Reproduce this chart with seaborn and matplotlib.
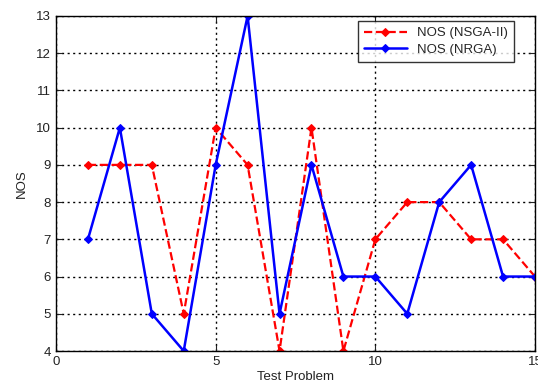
import matplotlib
matplotlib.use("Agg")
import matplotlib.pyplot as plt
import seaborn as sns
import pandas as pd

problems = list(range(1, 16))
nsga2 = [9, 9, 9, 5, 10, 9, 4, 10, 4, 7, 8, 8, 7, 7, 6]
nrga = [7, 10, 5, 4, 9, 13, 5, 9, 6, 6, 5, 8, 9, 6, 6]
labels = ["NOS (NSGA-II)", "NOS (NRGA)"]

sns.set_style("white")
plt.rcParams['font.family'] = ['Liberation Sans', 'DejaVu Sans']

fig = plt.figure(figsize=(5.38, 3.85), dpi=100)
ax = fig.add_axes([56/538, 1 - 351/385, (535-56)/538, (351-16)/385])

df1 = pd.DataFrame({"x": problems, "y": nsga2})
df2 = pd.DataFrame({"x": problems, "y": nrga})
sns.lineplot(data=df1, x="x", y="y", ax=ax, color="#ff0000", linestyle="--",
             linewidth=1.6, marker="D", markersize=4, markeredgecolor="#ff0000",
             label=labels[0])
sns.lineplot(data=df2, x="x", y="y", ax=ax, color="#0000ff", linestyle="-",
             linewidth=1.8, marker="D", markersize=4, markeredgecolor="#0000ff",
             label=labels[1])

ax.set_xlim(0, 15)
ax.set_ylim(4, 13)
ax.set_xticks([0, 5, 10, 15])
ax.set_yticks(range(4, 14))
ax.grid(True, color="black", linestyle=(0, (1.5, 2.5)), linewidth=1.0)
ax.set_axisbelow(True)
for s in ax.spines.values():
    s.set_color("black")
    s.set_linewidth(1.0)
ax.tick_params(axis="both", direction="in", length=4, labelsize=9.5, colors="#222222",
               top=True, right=True, bottom=True, left=True)
ax.set_xlabel("Test Problem", fontsize=9.5, color="#222222", labelpad=2)
ax.set_ylabel("NOS", fontsize=9.5, color="#222222", labelpad=6)

leg = ax.legend(loc="upper right", bbox_to_anchor=(0.956, 0.985), fontsize=9.5,
                frameon=True, fancybox=False, edgecolor="black", borderpad=0.45,
                handlelength=3.2, labelspacing=0.35, borderaxespad=0)
leg.get_frame().set_linewidth(1.0)

fig.savefig("out.png", dpi=100)
